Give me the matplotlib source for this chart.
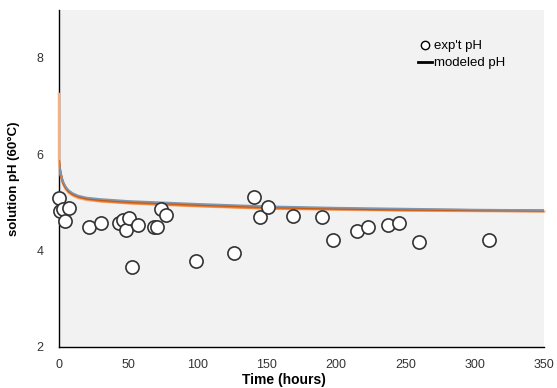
import matplotlib
matplotlib.use("Agg")
from matplotlib import pyplot as plt
from matplotlib.lines import Line2D

plt.rcParams['font.family'] = ['Liberation Sans', 'DejaVu Sans']

# measured pH
exp_time = [0, 0.7, 3, 4, 7, 21.6, 30, 43.3, 46.4, 48.3, 50.7, 52.7, 57.2,
            68.5, 70.5, 73.8, 77.2, 99, 126, 141, 144.8, 150.6, 169, 190,
            198, 215, 223, 237.4, 245.3, 260, 310.5]
exp_ph = [5.10, 4.82, 4.87, 4.62, 4.89, 4.48, 4.58, 4.58, 4.63, 4.43, 4.67,
          3.66, 4.52, 4.49, 4.49, 4.86, 4.74, 3.79, 3.95, 5.11, 4.69, 4.91,
          4.71, 4.69, 4.22, 4.41, 4.49, 4.52, 4.58, 4.18, 4.21]

# modeled pH runs
model_time = [0, 0.1, 0.3, 0.6, 1, 1.5, 2, 3, 4, 5, 7, 10, 14, 20, 30, 40,
              50, 75, 100, 150, 200, 250, 300, 350]
model_blue = [5.86, 5.83, 5.78, 5.71, 5.64, 5.57, 5.51, 5.43, 5.37, 5.32,
              5.25, 5.19, 5.14, 5.10, 5.07, 5.05, 5.03, 5.00, 4.97, 4.92,
              4.89, 4.87, 4.85, 4.84]
model_dark = [5.85, 5.82, 5.77, 5.70, 5.63, 5.56, 5.50, 5.41, 5.35, 5.30,
              5.23, 5.17, 5.12, 5.08, 5.05, 5.03, 5.01, 4.98, 4.95, 4.90,
              4.87, 4.85, 4.84, 4.83]
model_orange = [5.85, 5.82, 5.76, 5.69, 5.62, 5.55, 5.49, 5.40, 5.34, 5.29,
                5.22, 5.16, 5.11, 5.07, 5.03, 5.01, 4.99, 4.96, 4.93, 4.88,
                4.86, 4.84, 4.83, 4.82]
light_time = [0, 0.02] + model_time[1:]
model_light = [7.25, 5.88, 5.80, 5.74, 5.67, 5.60, 5.53, 5.47, 5.38, 5.32,
               5.27, 5.20, 5.14, 5.09, 5.05, 5.02, 5.00, 4.98, 4.95, 4.92,
               4.87, 4.85, 4.83, 4.82, 4.81]

fig = plt.figure(figsize=(5.57, 3.88), dpi=100)
ax = fig.add_axes([0.106, 0.106, 0.871, 0.869])
ax.set_facecolor('#f2f2f2')

ax.plot(light_time, model_light, c='#f4b183', lw=1.8, zorder=3, clip_on=False)
ax.plot(model_time, model_orange, c='#ed7d31', lw=1.8, zorder=3.1)
ax.plot(model_time, model_dark, c='#c55a11', lw=1.5, zorder=3.2)
ax.plot(model_time, model_blue, c='#7f96b2', lw=1.2, zorder=3.3)
ax.scatter(exp_time, exp_ph, s=90, facecolor='white', edgecolor='#333333',
           linewidth=1.2, zorder=5, clip_on=False)

ax.set_xlim(0, 350)
ax.set_ylim(2, 9)
ax.set_xticks([0, 50, 100, 150, 200, 250, 300, 350])
ax.set_yticks([2, 4, 6, 8])
ax.tick_params(length=0, labelsize=9, colors='#333333')
ax.tick_params(axis='x', pad=9)
ax.tick_params(axis='y', pad=11)
for s in ['top', 'right']:
    ax.spines[s].set_visible(False)
for s in ['left', 'bottom']:
    ax.spines[s].set_color('black')
    ax.spines[s].set_linewidth(1.0)

ax.set_xlabel("Time (hours)", fontsize=10, fontweight='bold')
ax.xaxis.set_label_coords(0.463, -0.078)
ax.set_ylabel("solution pH (60°C)", fontsize=9.5, fontweight='bold', labelpad=12)

handles = [Line2D([], [], ls='none', marker='o', mfc='white', mec='black',
                  ms=6, mew=1),
           Line2D([], [], c='black', lw=2)]
ax.legend(handles, ["exp't pH", "modeled pH"], loc='upper right',
          bbox_to_anchor=(0.945, 0.945), frameon=False, fontsize=9.5,
          handlelength=1.1, handletextpad=0.15, labelspacing=0.35)

fig.savefig("out.png", dpi=100)
